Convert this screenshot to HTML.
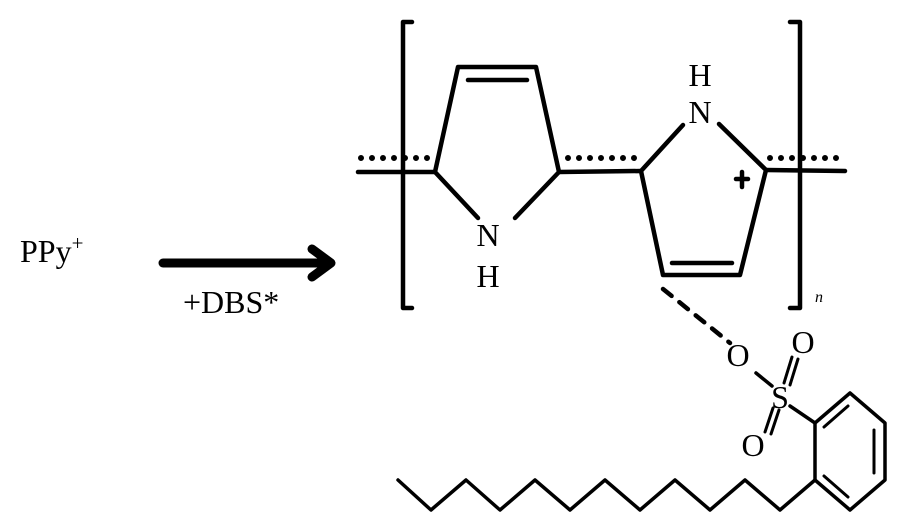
<!DOCTYPE html>
<html><head><style>html,body{margin:0;padding:0;background:#fff;}svg{display:block}</style></head>
<body>
<svg width="900" height="527" viewBox="0 0 900 527" xmlns="http://www.w3.org/2000/svg" font-family="Liberation Serif, serif" fill="#000">
<text x="20" y="262" font-size="32">PPy<tspan font-size="21" dy="-12">+</tspan></text>
<line x1="163" y1="263" x2="325" y2="263" stroke="#000" stroke-width="9" stroke-linecap="round"/>
<polyline points="312,249 331,263 312,277" fill="none" stroke="#000" stroke-width="9" stroke-linecap="round" stroke-linejoin="round"/>
<text x="183" y="313" font-size="32">+DBS*</text>
<g stroke="#000" stroke-width="4.5" fill="none" stroke-linecap="round" stroke-linejoin="round">
<polyline points="412,22 403,22 403,308 412,308"/>
<polyline points="790,22 800,22 800,308 790,308"/>
<line x1="358" y1="172" x2="435" y2="172"/>
<line x1="559" y1="172" x2="641" y2="171"/>
<line x1="766" y1="170" x2="845" y2="171"/>
<polyline points="435,172 458,67 536,67 559,172"/>
<line x1="435" y1="172" x2="478" y2="218"/>
<line x1="559" y1="172" x2="515" y2="218"/>
<line x1="468" y1="80" x2="527" y2="80"/>
<polyline points="641,171 663,275 740,275 766,170"/>
<line x1="641" y1="171" x2="683" y2="125"/>
<line x1="719" y1="124" x2="766" y2="170"/>
<line x1="672" y1="263" x2="732" y2="263"/>
<line x1="736" y1="179" x2="748" y2="179"/>
<line x1="742" y1="172" x2="742" y2="187"/>
<line x1="663" y1="289" x2="730" y2="343" stroke-dasharray="11,10"/>
<line x1="756" y1="373" x2="772" y2="386" stroke-width="3.5"/>
<line x1="790" y1="406" x2="815" y2="423" stroke-width="3.5"/>
<line x1="784" y1="383" x2="792" y2="357" stroke-width="3"/>
<line x1="790" y1="385" x2="798" y2="359" stroke-width="3"/>
<line x1="765" y1="432" x2="773" y2="408" stroke-width="3"/>
<line x1="771" y1="434" x2="779" y2="410" stroke-width="3"/>
<polygon points="815,423 850,393 885,423 885,480 850,510 815,480" stroke-width="3.5"/>
<line x1="824" y1="427" x2="848" y2="406" stroke-width="3"/>
<line x1="874" y1="430" x2="874" y2="473" stroke-width="3"/>
<line x1="824" y1="476" x2="848" y2="497" stroke-width="3"/>
<polyline points="398,480 431,510 466,480 500,510 535,480 570,510 605,480 640,510 675,480 710,510 745,480 780,510 815,480" stroke-width="3.5"/>
</g>
<g stroke="#000" stroke-width="6" stroke-linecap="round" stroke-dasharray="0,11">
<line x1="361" y1="158" x2="430" y2="158"/>
<line x1="568" y1="158" x2="636" y2="158"/>
<line x1="770" y1="158" x2="843" y2="158"/>
</g>
<g font-size="32" text-anchor="middle">
<text x="488" y="246">N</text>
<text x="488" y="287">H</text>
<text x="700" y="86">H</text>
<text x="700" y="123">N</text>
<text x="738" y="366">O</text>
<text x="780" y="408">S</text>
<text x="803" y="353">O</text>
<text x="753" y="456">O</text>
</g>
<text x="815" y="302" font-size="16" font-style="italic">n</text>
</svg>
</body></html>
